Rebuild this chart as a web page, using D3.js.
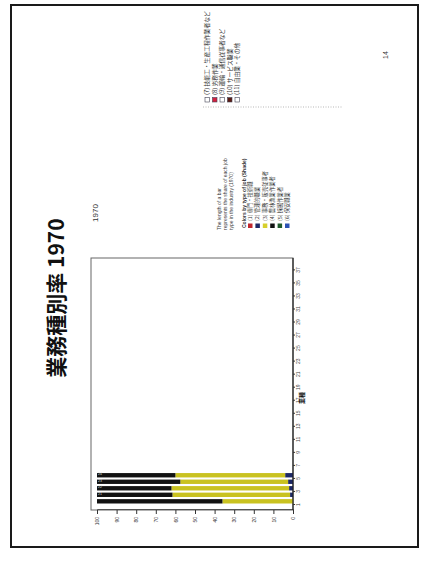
<!DOCTYPE html>
<html><head><meta charset="utf-8">
<script src="https://cdn.jsdelivr.net/npm/d3@7"></script>
<style>html,body{margin:0;padding:0;background:#fff}svg{display:block}</style>
</head><body><svg id="c" width="421" height="563"></svg>
<script>
// ---- data ----
const categories = d3.range(1, 39).map(String);
const stackKeys = ["s2", "s3", "s4"];
const navyValues = [0, 1.5, 2, 2.5, 4];
const yellowValues = [36, 60, 60, 55, 56];
const blackValues = [64, 38.5, 38, 42.5, 40];
const barLabels = ["", "21", "22", "23", "24"];
const valueTicks = [0, 10, 20, 30, 40, 50, 60, 70, 80, 90, 100];
const legendNames = ["(1) 専門・技術職", "(2) 管理的職業", "(3) 事務・販売従事者", "(4) 農林漁業作業者", "(5) 採掘作業者", "(6) 保安職業"];
const legendColors = ["#c0262d", "#1d2866", "#d6cf2c", "#111111", "#1f5a2c", "#2c52b4"];
const legend2Names = ["(7) 技能工・生産工程作業者など", "(8) 労務作業", "(9) 運輸・通信従事者など", "(10) サービス職業", "(11) 自由業・その他"];
const legend2Fill = ["#ffffff", "#d3213f", "#ffffff", "#5a1a12", "#ffffff"];
const noteLines = ["The length of a bar", "represents the share of each job", "type in the industry (1970)"];
const colorTitle = "Colors by type of job (Shade)";
const titleText = "業務種別率 1970";
const subTitle = "1970";
const axisTitle = "業種";
const pageNo = "14";

const rows = categories.map((c, i) => ({
  cat: c,
  s2: navyValues[i] || 0, s3: yellowValues[i] || 0, s4: blackValues[i] || 0
}));
const stackColors = {s2: "#1d2866", s3: "#c9c220", s4: "#121212"};

const JP = "'Noto Sans CJK JP', sans-serif";
const LAT = "'Liberation Sans', Arial, sans-serif";

const svg = d3.select("#c");
svg.append("rect").attr("width", 421).attr("height", 563).attr("fill", "#fff");
// natural (unrotated) page: u along 0..563, v along 0..421
const g = svg.append("g").attr("transform", "translate(0,563) rotate(-90)");

// page border
g.append("rect").attr("x", 16).attr("y", 11).attr("width", 542).attr("height", 407)
  .attr("fill", "none").attr("stroke", "#1a1a1a").attr("stroke-width", 2);

// title
g.append("text").attr("x", 265).attr("y", 55).attr("text-anchor", "middle")
  .attr("dominant-baseline", "central").attr("font-family", JP).attr("font-weight", 700)
  .attr("font-size", 21).attr("fill", "#111").text(titleText);
g.append("text").attr("x", 350).attr("y", 95).attr("text-anchor", "middle")
  .attr("dominant-baseline", "central").attr("font-family", LAT)
  .attr("font-size", 8).attr("fill", "#333").text(subTitle);

// scales
const x = d3.scaleBand().domain(categories).range([59.5, 305]).paddingInner(0.33).paddingOuter(0);
const y = d3.scaleLinear().domain([0, 100]).range([293, 97]);

// frame
g.append("rect").attr("x", 53).attr("y", 91).attr("width", 252).attr("height", 202)
  .attr("fill", "none").attr("stroke", "#666").attr("stroke-width", 1);

// bars
const series = d3.stack().keys(stackKeys)(rows);
g.append("g").selectAll("g").data(series).join("g")
  .attr("fill", d => stackColors[d.key])
  .selectAll("rect").data(d => d).join("rect")
  .attr("x", d => x(d.data.cat)).attr("width", x.bandwidth())
  .attr("y", d => y(d[1])).attr("height", d => y(d[0]) - y(d[1]));

// bar labels
g.append("g").selectAll("text").data(rows.slice(0, barLabels.length)).join("text")
  .attr("x", d => x(d.cat) + x.bandwidth() / 2).attr("y", y(100) + 2)
  .attr("text-anchor", "middle").attr("dominant-baseline", "central")
  .attr("transform", d => `rotate(90 ${x(d.cat) + x.bandwidth() / 2} ${y(100) + 3})`)
  .attr("font-family", LAT).attr("font-size", 3.5).attr("fill", "#ddd")
  .text((d, i) => barLabels[i]);

// value axis (natural left)
const ya = g.append("g").attr("transform", "translate(53,0)")
  .call(d3.axisLeft(y).tickValues(valueTicks).tickSize(4).tickFormat(d => d));
ya.select(".domain").attr("stroke", "#555");
ya.selectAll("line").attr("stroke", "#333");
ya.selectAll("text").attr("font-family", LAT).attr("font-size", 5).attr("fill", "#333");

// category axis (natural bottom)
const xa = g.append("g").attr("transform", "translate(0,293)");
xa.append("line").attr("x1", 53).attr("x2", 305).attr("stroke", "#222").attr("stroke-width", 1.2);
const shown = categories.filter((d, i) => i % 2 === 0);
xa.selectAll("line.t").data(shown).join("line").attr("class", "t")
  .attr("x1", d => x(d) - 1).attr("x2", d => x(d) - 1).attr("y1", 0).attr("y2", 2)
  .attr("stroke", "#333");
xa.selectAll("text").data(shown).join("text")
  .attr("x", d => x(d) - 1).attr("y", 7).attr("text-anchor", "middle")
  .attr("font-family", LAT).attr("font-size", 5).attr("fill", "#444").text(d => d);
g.append("text").attr("x", 165).attr("y", 304).attr("text-anchor", "middle")
  .attr("font-family", JP).attr("font-weight", 700).attr("font-size", 6).attr("fill", "#111")
  .text(axisTitle);

// middle legend / notes
g.append("g").selectAll("text").data(noteLines).join("text")
  .attr("x", 333).attr("y", (d, i) => 221 + i * 6).attr("font-family", LAT)
  .attr("font-size", 5).attr("fill", "#444").text(d => d);
g.append("text").attr("x", 335).attr("y", 246).attr("font-family", LAT).attr("font-weight", 700)
  .attr("font-size", 5).attr("fill", "#333").text(colorTitle);
const lg = g.append("g").selectAll("g").data(legendNames).join("g")
  .attr("transform", (d, i) => `translate(335,${252 + i * 7.4})`);
lg.append("rect").attr("x", 0).attr("y", -4).attr("width", 4.5).attr("height", 4.5)
  .attr("fill", (d, i) => legendColors[i]);
lg.append("text").attr("x", 7).attr("y", 0).attr("font-family", JP).attr("font-size", 5.3)
  .attr("fill", "#333").text(d => d);

// right legend
const lg2 = g.append("g").selectAll("g").data(legend2Names).join("g")
  .attr("transform", (d, i) => `translate(461,${209 + i * 7.5})`);
lg2.append("rect").attr("x", 0).attr("y", -4).attr("width", 4.5).attr("height", 4.5)
  .attr("fill", (d, i) => legend2Fill[i]).attr("stroke", "#445").attr("stroke-width", 0.6);
lg2.append("text").attr("x", 7).attr("y", 0).attr("font-family", JP).attr("font-size", 5.8)
  .attr("fill", "#333").text(d => d);
g.append("line").attr("x1", 456).attr("x2", 456).attr("y1", 203).attr("y2", 343)
  .attr("stroke", "#999").attr("stroke-width", 0.7).attr("stroke-dasharray", "1,1.5");

// page number
g.append("text").attr("x", 508).attr("y", 385).attr("text-anchor", "middle")
  .attr("dominant-baseline", "central").attr("font-family", LAT).attr("font-size", 7)
  .attr("fill", "#333").text(pageNo);
</script></body></html>
